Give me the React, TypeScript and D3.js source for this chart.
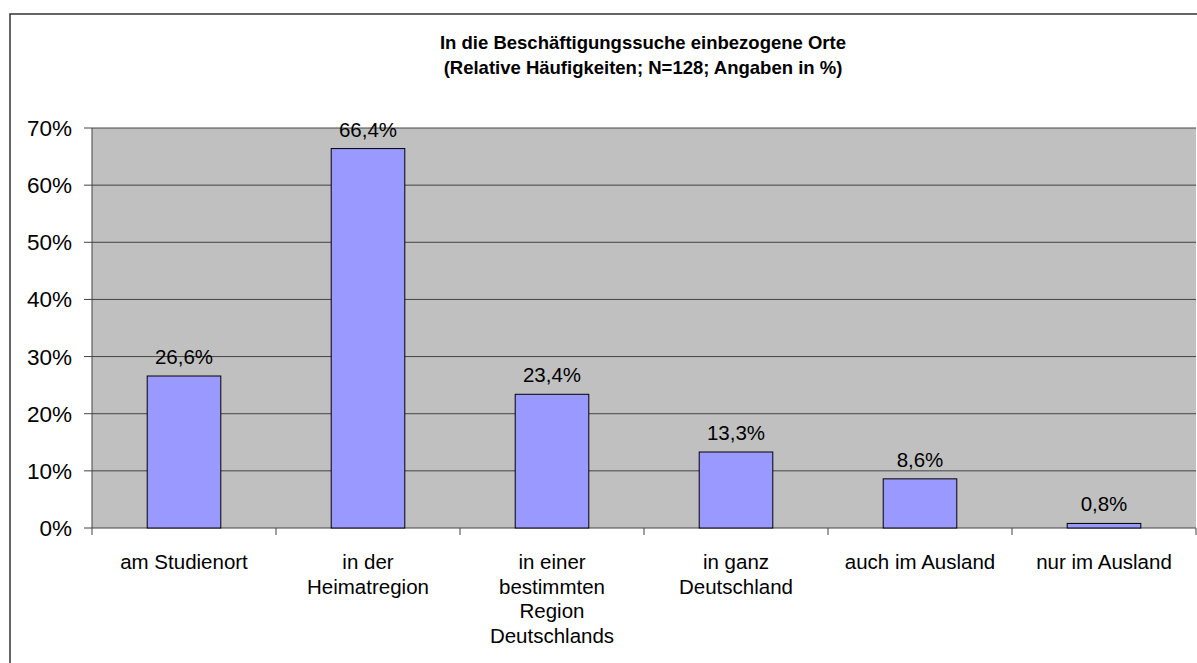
import React from "react";
import * as d3 from "d3";

const categories: string[][] = [
  ["am Studienort"],
  ["in der", "Heimatregion"],
  ["in einer", "bestimmten", "Region", "Deutschlands"],
  ["in ganz", "Deutschland"],
  ["auch im Ausland"],
  ["nur im Ausland"],
];
const values: number[] = [26.6, 66.4, 23.4, 13.3, 8.6, 0.8];
const yTicks: number[] = [0, 10, 20, 30, 40, 50, 60, 70];
const titleLines: string[] = [
  "In die Beschäftigungssuche einbezogene Orte",
  "(Relative Häufigkeiten; N=128; Angaben in %)",
];

const W = 1197;
const H = 663;
const plot = { left: 92, top: 128, right: 1196, bottom: 528 };
const font = "'Liberation Sans', Arial, sans-serif";

export default function App() {
  const x = d3
    .scaleBand<number>()
    .domain(values.map((_, i) => i))
    .range([plot.left, plot.right])
    .paddingInner(0)
    .paddingOuter(0);
  const y = d3.scaleLinear().domain([0, 70]).range([plot.bottom, plot.top]);
  const bw = x.bandwidth() * 0.4;
  const fmt = (v: number) => v.toFixed(1).replace(".", ",") + "%";
  const boundaries = d3.range(values.length + 1).map((i) => plot.left + i * x.bandwidth());

  return (
    <svg
      width={W}
      height={H}
      style={{ position: "absolute", left: 0, top: 0, background: "#fff" }}
      fontFamily={font}
    >
      <rect x={10} y={14} width={W + 10} height={H + 10} fill="#fff" stroke="#333" strokeWidth={1.5} />
      {titleLines.map((t, i) => (
        <text
          key={i}
          x={643}
          y={49 + i * 25}
          textAnchor="middle"
          fontWeight="bold"
          fontSize={18.5}
          fill="#000"
        >
          {t}
        </text>
      ))}
      <rect
        x={plot.left}
        y={plot.top}
        width={plot.right - plot.left}
        height={plot.bottom - plot.top}
        fill="#c0c0c0"
      />
      {yTicks.map((t) => (
        <g key={t}>
          <line x1={plot.left} x2={plot.right} y1={y(t)} y2={y(t)} stroke="#444" strokeWidth={1} />
          <line x1={84} x2={plot.left} y1={y(t)} y2={y(t)} stroke="#444" strokeWidth={1} />
          <text x={72} y={y(t) + 8} textAnchor="end" fontSize={22.5} fill="#000">
            {t}%
          </text>
        </g>
      ))}
      <line x1={plot.left} x2={plot.left} y1={plot.top} y2={plot.bottom} stroke="#444" strokeWidth={1} />
      {boundaries.map((b, i) => (
        <line key={i} x1={b} x2={b} y1={plot.bottom} y2={plot.bottom + 7} stroke="#444" strokeWidth={1} />
      ))}
      {values.map((v, i) => {
        const cx = (x(i) as number) + x.bandwidth() / 2;
        return (
          <g key={i}>
            <rect
              x={cx - bw / 2}
              y={y(v)}
              width={bw}
              height={plot.bottom - y(v)}
              fill="#9999ff"
              stroke="#000"
              strokeWidth={1}
            />
            <text x={cx} y={y(v) - 12} textAnchor="middle" fontSize={20.5} fill="#000">
              {fmt(v)}
            </text>
            {categories[i].map((line, j) => (
              <text key={j} x={cx} y={569 + j * 24.5} textAnchor="middle" fontSize={20.5} fill="#000">
                {line}
              </text>
            ))}
          </g>
        );
      })}
    </svg>
  );
}
